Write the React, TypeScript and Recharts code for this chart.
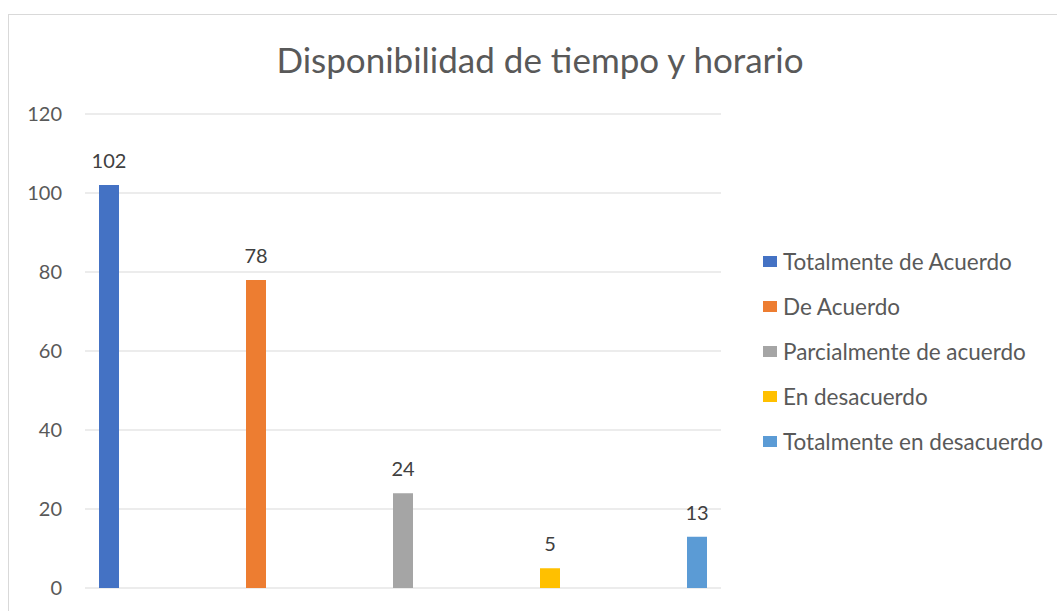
import { BarChart, Bar, XAxis, YAxis, CartesianGrid, Legend, LabelList } from 'recharts'

const categories = ['Disponibilidad']
const seriesNames = [
  'Totalmente de Acuerdo',
  'De Acuerdo',
  'Parcialmente de acuerdo',
  'En desacuerdo',
  'Totalmente en desacuerdo',
]
const seriesValues = [102, 78, 24, 5, 13]
const seriesColors = ['#4472C4', '#ED7D31', '#A5A5A5', '#FFC000', '#5B9BD5']
const yTicks = [0, 20, 40, 60, 80, 100, 120]

const data = categories.map(c => {
  const row: Record<string, unknown> = { name: c }
  seriesNames.forEach((s, i) => { row[s] = seriesValues[i] })
  return row
})

const FONT = 'Lato, "Open Sans", sans-serif'

function LegendContent({ payload }: { payload?: { value: string; color: string }[] }) {
  const items = [...(payload ?? [])].sort((a, b) => seriesNames.indexOf(a.value) - seriesNames.indexOf(b.value))
  return (
    <ul style={{ listStyle: 'none', margin: 0, padding: 0, fontFamily: FONT }}>
      {items.map(p => (
        <li key={p.value} style={{ height: 45, display: 'flex', alignItems: 'center', fontSize: 22.5, color: '#595959', whiteSpace: 'nowrap' }}>
          <span style={{ display: 'inline-block', width: 14, height: 11, background: p.color, marginRight: 6 }} />
          {p.value}
        </li>
      ))}
    </ul>
  )
}

export default function App() {
  return (
    <div style={{
      position: 'fixed', top: 14, left: 8, width: 1049, height: 597, overflow: 'hidden',
      borderTop: '1px solid #d9d9d9', borderLeft: '1px solid #d9d9d9', background: '#fff',
    }}>
      <div style={{
        position: 'absolute', top: 27, left: 7, width: 1048, textAlign: 'center',
        fontFamily: FONT, fontSize: 35, lineHeight: '35px', color: '#595959',
      }}>
        Disponibilidad de tiempo y horario
      </div>
      <BarChart
        width={1048}
        height={596}
        data={data}
        margin={{ top: 99, right: 336, bottom: 23, left: 0 }}
        barSize={20}
        barGap={127}
      >
        <CartesianGrid vertical={false} stroke="#d9d9d9" />
        <XAxis dataKey="name" hide />
        <YAxis
          width={76}
          domain={[0, 120]}
          ticks={yTicks}
          interval={0}
          axisLine={false}
          tickLine={false}
          tickSize={0}
          tickMargin={23}
          tick={{ fontSize: 20, fill: '#595959', fontFamily: FONT }}
        />
        <Legend
          layout="vertical"
          align="center"
          verticalAlign="middle"
          itemSorter={null}
          wrapperStyle={{ left: 754, top: 224, width: 294 }}
          content={<LegendContent />}
        />
        {seriesNames.map((s, i) => (
          <Bar key={s} dataKey={s} name={s} fill={seriesColors[i]} isAnimationActive={false}>
            <LabelList dataKey={s} position="top" offset={17} fill="#404040" fontSize={20} fontFamily={FONT} />
          </Bar>
        ))}
      </BarChart>
    </div>
  )
}
